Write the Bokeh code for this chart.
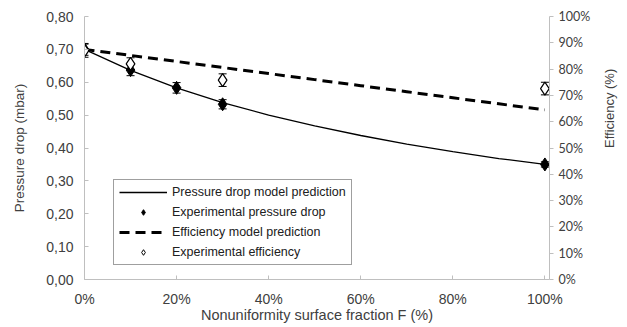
import math
from bokeh.plotting import figure
from bokeh.models import (Range1d, LinearAxis, FixedTicker, Legend, LegendItem,
                          Whisker, ColumnDataSource, TeeHead)
from bokeh.embed import file_html
from bokeh.resources import INLINE

# ---- data ----
model_F = [0.0, 0.1, 0.2, 0.3, 0.4, 0.5, 0.6, 0.7, 0.8, 0.9, 1.0]
model_dp = [0.700, 0.636, 0.583, 0.538, 0.500, 0.467, 0.438, 0.412, 0.389, 0.368, 0.350]
model_eff = [87.5, 85.2, 82.9, 80.6, 78.3, 76.0, 73.7, 71.4, 69.1, 66.8, 64.5]

exp_F = [0.0, 0.1, 0.2, 0.3, 1.0]
exp_dp = [0.700, 0.637, 0.583, 0.533, 0.350]
exp_dp_err = [0.018, 0.017, 0.016, 0.014, 0.008]

eff_F = [0.0, 0.1, 0.3, 1.0]
exp_eff = [87.0, 82.0, 75.8, 72.6]
exp_eff_err = [2.5, 2.3, 2.4, 2.4]

x_ticks = [0.0, 0.2, 0.4, 0.6, 0.8, 1.0]
x_tick_labels = ["0%", "20%", "40%", "60%", "80%", "100%"]
y_ticks = [0.0, 0.1, 0.2, 0.3, 0.4, 0.5, 0.6, 0.7, 0.8]
y_tick_labels = ["0,00", "0,10", "0,20", "0,30", "0,40", "0,50", "0,60", "0,70", "0,80"]
y2_ticks = [0, 10, 20, 30, 40, 50, 60, 70, 80, 90, 100]
y2_tick_labels = ["0%", "10%", "20%", "30%", "40%", "50%", "60%", "70%", "80%", "90%", "100%"]

FONT = "Liberation Sans"
AXIS_GRAY = "#bfbfbf"
TXT = "#404040"

p = figure(width=627, height=327, output_backend="svg", toolbar_location=None,
           x_range=Range1d(0, 1.01), y_range=Range1d(0, 0.8),
           min_border_left=84, min_border_right=77, min_border_top=16, min_border_bottom=48)
p.extra_y_ranges = {"eff": Range1d(0, 100)}
p.outline_line_color = None
p.xgrid.visible = False
p.ygrid.visible = False

# axes styling
xa = p.xaxis[0]
xa.ticker = FixedTicker(ticks=x_ticks)
xa.major_label_overrides = {t: l for t, l in zip(x_ticks, x_tick_labels)}
xa.axis_label = "Nonuniformity surface fraction F (%)"
ya = p.yaxis[0]
ya.ticker = FixedTicker(ticks=y_ticks)
ya.major_label_overrides = {t: l for t, l in zip(y_ticks, y_tick_labels)}
ya.axis_label = "Pressure drop (mbar)"

y2 = LinearAxis(y_range_name="eff", axis_label="Efficiency (%)",
                ticker=FixedTicker(ticks=y2_ticks))
y2.major_label_overrides = {t: l for t, l in zip(y2_ticks, y2_tick_labels)}
p.add_layout(y2, "right")

for ax in (xa, ya, y2):
    ax.axis_line_color = AXIS_GRAY
    ax.major_tick_line_color = AXIS_GRAY
    ax.minor_tick_line_color = None
    ax.major_label_text_font = FONT
    ax.major_label_text_font_size = "14px"
    ax.major_label_text_color = TXT
    ax.axis_label_text_font = FONT
    ax.axis_label_text_font_size = "13.5px"
    ax.axis_label_text_font_style = "normal"
    ax.axis_label_text_color = TXT
xa.major_tick_in = 4
xa.major_tick_out = 0
xa.major_label_standoff = 11
xa.axis_label_standoff = -3
xa.axis_label_text_font_size = "14.5px"
ya.major_tick_in = 4
ya.major_tick_out = 0
ya.major_label_standoff = 11
ya.axis_label_standoff = 16
y2.major_tick_in = 0
y2.major_tick_out = 4
y2.axis_label_standoff = 16
y2.major_label_text_font = "Lato"
y2.major_label_text_font_size = "12.5px"
y2.axis_label_text_font_size = "13px"
y2.axis_label_orientation = math.pi / 2

# model lines
r_dp_line = p.line(model_F, model_dp, line_color="black", line_width=1.3)
r_eff_line = p.line(model_F, model_eff, y_range_name="eff", line_color="black",
                    line_width=3, line_dash="10 6")

# small markers used for the legend swatches (hidden under the large markers)
lg_dp = p.scatter(exp_F, exp_dp, marker="diamond", size=9, fill_color="black",
                  line_color="black")
lg_eff = p.scatter(eff_F, exp_eff, y_range_name="eff", marker="diamond", size=9,
                   fill_color="white", line_color="black", line_width=1)

# error bars
src_dp = ColumnDataSource(dict(x=exp_F, lo=[v - e for v, e in zip(exp_dp, exp_dp_err)],
                               hi=[v + e for v, e in zip(exp_dp, exp_dp_err)]))
w1 = Whisker(source=src_dp, base="x", lower="lo", upper="hi", line_color="black",
             line_width=1,
             upper_head=TeeHead(size=8, line_color="black", line_width=1),
             lower_head=TeeHead(size=8, line_color="black", line_width=1))
p.add_layout(w1)
src_eff = ColumnDataSource(dict(x=eff_F, lo=[v - e for v, e in zip(exp_eff, exp_eff_err)],
                                hi=[v + e for v, e in zip(exp_eff, exp_eff_err)]))
w2 = Whisker(source=src_eff, base="x", lower="lo", upper="hi", line_color="black",
             line_width=1, y_range_name="eff",
             upper_head=TeeHead(size=8, line_color="black", line_width=1),
             lower_head=TeeHead(size=8, line_color="black", line_width=1))
p.add_layout(w2)

# markers
r_dp_pts = p.scatter(exp_F, exp_dp, marker="diamond", size=13, fill_color="black",
                     line_color="black")
r_eff_pts = p.scatter(eff_F, exp_eff, y_range_name="eff", marker="diamond", size=13,
                      fill_color="white", line_color="black", line_width=1.2)

legend = Legend(items=[
    LegendItem(label="Pressure drop model prediction", renderers=[r_dp_line]),
    LegendItem(label="Experimental pressure drop", renderers=[lg_dp]),
    LegendItem(label="Efficiency model prediction", renderers=[r_eff_line]),
    LegendItem(label="Experimental efficiency", renderers=[lg_eff]),
], location=(29, 14))
legend.label_text_font = FONT
legend.label_text_font_size = "12.5px"
legend.label_text_color = "#202020"
legend.border_line_color = "#404040"
legend.border_line_width = 1
legend.glyph_width = 48
legend.glyph_height = 14
legend.label_height = 14
legend.spacing = 6
legend.padding = 5
legend.margin = 0
legend.background_fill_alpha = 1
p.add_layout(legend, "center")

open("out.html", "w").write(file_html(p, INLINE))
